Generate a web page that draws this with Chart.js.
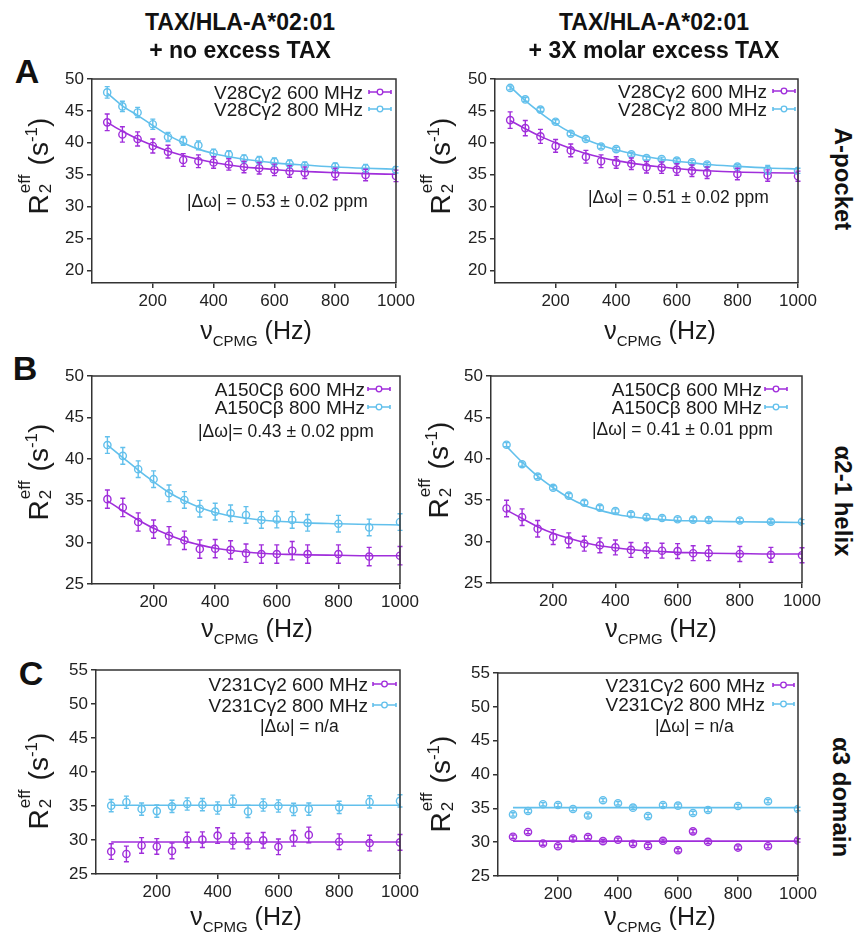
<!DOCTYPE html>
<html><head><meta charset="utf-8">
<script src="https://cdn.jsdelivr.net/npm/chart.js@4.4.1/dist/chart.umd.min.js"></script>
<style>
body{margin:0;background:#fff;width:857px;height:934px;position:relative;overflow:hidden;font-family:"Liberation Sans",Arial,sans-serif;color:#1a1a1a;}
canvas{position:absolute;}
.t{position:absolute;white-space:nowrap;line-height:1;}
.colt{font-weight:bold;font-size:23px;transform:translate(-50%,-50%);color:#111}
.let{font-weight:bold;font-size:34px;transform:translate(-50%,-50%);color:#111}
.rowl{font-weight:bold;font-size:24px;transform:translate(-50%,-50%) rotate(90deg);color:#111}
.yt{font-size:28px;transform:translate(-50%,-50%) rotate(-90deg);}
.yt .ss{display:inline-block;position:relative;width:21px;height:28px;}
.yt .sp{position:absolute;left:1px;top:-4px;font-size:17px;}
.yt .sb{position:absolute;left:1px;top:17px;font-size:17px;}
.yt sup{font-size:17px;vertical-align:11px;}
.xt{font-size:25px;transform:translate(-50%,-50%);}
.xt sub{font-size:15px;vertical-align:-7px;}
.dw{font-size:17.5px;transform:translateY(-50%);}
.lg{font-size:19px;transform:translateY(-50%);text-align:right;}
</style>
</head><body>
<script>
// ---------- DATA ----------
const nu = [50,100,150,200,250,300,350,400,450,500,550,600,650,700,800,900,1000];
const flatX = [50,1000];
const xTicks = [200,400,600,800,1000];
const yTicksA = [20,25,30,35,40,45,50];
const yTicksB = [25,30,35,40,45,50];
const yTicksC = [25,30,35,40,45,50,55];

// A, left: no excess TAX, V28Cγ2
const aL600    = [43.2,41.3,40.6,39.5,38.6,37.3,37.1,36.9,36.6,36.2,36.0,35.75,35.5,35.3,35.1,34.95,34.8];
const aL600Err = [1.3,1.2,1.1,1.1,1.0,1.0,1.0,0.9,0.9,0.9,0.9,0.9,0.9,0.9,0.9,0.9,0.9];
const aL600Fit = [43.2,41.8,40.6,39.6,38.7,38.0,37.4,36.9,36.5,36.2,36.0,35.8,35.6,35.5,35.3,35.15,35.05];
const aL800    = [47.9,45.7,44.75,42.9,40.9,40.3,39.6,38.4,38.15,37.5,37.25,37.0,36.7,36.4,36.25,36.0,35.75];
const aL800Err = [0.9,0.8,0.8,0.8,0.7,0.7,0.7,0.6,0.6,0.6,0.6,0.6,0.6,0.6,0.6,0.6,0.5];
const aL800Fit = [47.8,45.8,44.3,42.7,41.2,40.0,39.0,38.3,37.8,37.4,37.1,36.85,36.65,36.5,36.2,36.0,35.85];

// A, right: 3X excess TAX
const aR600    = [43.55,42.3,41.0,39.5,38.8,37.8,37.1,36.9,36.7,36.15,36.1,35.8,35.6,35.3,35.1,34.85,34.75];
const aR600Err = [1.3,1.2,1.1,1.0,1.0,1.0,1.0,0.9,0.9,0.9,0.9,0.9,0.9,0.9,0.9,0.9,0.8];
const aR600Fit = [43.5,42.2,41.0,40.0,39.1,38.3,37.7,37.2,36.8,36.45,36.2,35.95,35.75,35.6,35.4,35.3,35.25];
const aR800    = [48.6,46.8,45.2,43.3,41.4,40.6,39.4,39.0,38.2,37.6,37.45,37.2,36.95,36.6,36.25,35.75,35.6];
const aR800Err = [0.3,0.3,0.3,0.3,0.3,0.3,0.3,0.3,0.3,0.3,0.3,0.3,0.3,0.3,0.3,0.7,0.4];
const aR800Fit = [48.8,46.6,44.7,43.0,41.6,40.5,39.6,38.9,38.3,37.8,37.4,37.1,36.85,36.6,36.3,36.05,35.9];

// B, left: A150Cβ
const bL600    = [35.2,34.2,32.45,31.6,30.8,30.25,29.2,29.25,29.1,28.7,28.6,28.6,29.0,28.6,28.6,28.3,28.4];
const bL600Err = [1.1,1.1,1.1,1.1,1.1,1.1,1.1,1.1,1.1,1.1,1.1,1.1,1.1,1.1,1.1,1.1,1.1];
const bL600Fit = [35.0,33.8,32.7,31.7,30.9,30.2,29.7,29.3,29.05,28.85,28.7,28.6,28.55,28.5,28.45,28.4,28.4];
const bL800    = [41.7,40.4,38.8,37.6,35.9,35.1,34.05,33.7,33.5,33.3,32.7,32.75,32.7,32.35,32.25,31.8,32.45];
const bL800Err = [1.0,1.0,1.0,1.0,1.0,1.0,1.0,1.0,1.0,1.0,1.0,1.0,1.0,1.0,1.0,1.0,1.0];
const bL800Fit = [41.7,40.2,38.7,37.3,36.0,35.0,34.2,33.6,33.2,32.9,32.7,32.55,32.45,32.35,32.25,32.15,32.1];

// B, right
const bR600    = [34.0,32.95,31.55,30.55,30.15,29.75,29.55,29.3,29.0,28.95,28.9,28.85,28.6,28.6,28.5,28.4,28.35];
const bR600Err = [1.0,1.0,1.0,0.9,0.9,0.9,0.9,0.9,0.9,0.9,0.9,0.9,0.9,0.9,0.9,0.9,0.9];
const bR600Fit = [33.8,32.8,31.8,31.0,30.4,29.9,29.5,29.25,29.05,28.9,28.8,28.7,28.65,28.6,28.55,28.5,28.5];
const bR800    = [41.7,39.35,37.85,36.5,35.55,34.7,34.1,33.7,33.3,32.95,32.85,32.7,32.65,32.6,32.55,32.4,32.4];
const bR800Err = [0.25,0.25,0.25,0.25,0.25,0.25,0.25,0.25,0.25,0.25,0.25,0.25,0.25,0.25,0.25,0.25,0.25];
const bR800Fit = [41.5,39.6,37.9,36.5,35.3,34.4,33.8,33.3,33.0,32.8,32.65,32.55,32.5,32.45,32.4,32.35,32.3];

// C, left: V231Cγ2
const cL600    = [28.3,27.95,29.2,29.05,28.4,30.0,30.05,30.65,29.85,29.85,29.95,29.0,30.25,30.75,29.75,29.55,29.65];
const cL600Err = [1.15,1.15,1.15,1.15,1.15,1.15,1.15,1.15,1.15,1.15,1.15,1.15,1.15,1.15,1.15,1.15,1.15];
const cL600Fit = [29.7,29.7];
const cL800    = [35.05,35.55,34.55,34.25,34.95,35.3,35.2,34.7,35.7,34.2,35.15,35.0,34.5,34.55,34.8,35.6,35.75];
const cL800Err = [0.9,0.9,0.9,0.9,0.9,0.9,0.9,0.9,0.9,0.9,0.9,0.9,0.9,0.9,0.9,0.9,0.9];
const cL800Fit = [35.1,35.1];

// C, right
const cR600    = [30.8,31.5,29.8,29.4,30.55,30.75,30.15,30.35,29.75,29.45,30.2,28.8,31.6,30.05,29.2,29.4,30.25];
const cR600Err = [0.25,0.25,0.25,0.25,0.25,0.25,0.25,0.25,0.25,0.25,0.25,0.25,0.25,0.25,0.25,0.25,0.25];
const cR600Fit = [30.15,30.15];
const cR800    = [34.1,34.6,35.6,35.5,34.9,33.95,36.2,35.75,35.1,33.85,35.5,35.4,34.3,34.75,35.35,36.05,34.9];
const cR800Err = [0.25,0.25,0.25,0.25,0.25,0.25,0.25,0.25,0.25,0.25,0.25,0.25,0.25,0.25,0.25,0.25,0.25];
const cR800Fit = [35.1,35.1];

const labelsA = ['V28Cγ2 600 MHz','V28Cγ2 800 MHz'];
const labelsB = ['A150Cβ 600 MHz','A150Cβ 800 MHz'];
const labelsC = ['V231Cγ2 600 MHz','V231Cγ2 800 MHz'];
const dwTexts = ['|Δω| = 0.53 ± 0.02 ppm','|Δω| = 0.51 ± 0.02 ppm','|Δω|= 0.43 ± 0.02 ppm','|Δω| = 0.41 ± 0.01 ppm','|Δω| = n/a','|Δω| = n/a'];

// ---------- STYLE / LAYOUT ----------
const PURPLE = '#A02EDB';
const BLUE = '#62C0EC';
const AXC = '#333333';
const FONT = '"Liberation Sans", Arial, sans-serif';
const YW = 50, PT = 14, PR = 26, XH = 32;

const panels = [
 {box:[92,79,396,283], yr:[18,50], yt:yTicksA, s6:aL600,e6:aL600Err,f6:aL600Fit,fx:nu, s8:aL800,e8:aL800Err,f8:aL800Fit, lab:labelsA,
  leg:{tr:363,sL:369,sR:391,ys:[92,109]}, dw:{x:187,y:202,t:dwTexts[0]}},
 {box:[495,79,798,283], yr:[18,50], yt:yTicksA, s6:aR600,e6:aR600Err,f6:aR600Fit,fx:nu, s8:aR800,e8:aR800Err,f8:aR800Fit, lab:labelsA,
  leg:{tr:767,sL:773,sR:795,ys:[91,109]}, dw:{x:588,y:198,t:dwTexts[1]}},
 {box:[92,376,400,584], yr:[25,50], yt:yTicksB, s6:bL600,e6:bL600Err,f6:bL600Fit,fx:nu, s8:bL800,e8:bL800Err,f8:bL800Fit, lab:labelsB,
  leg:{tr:365,sL:368,sR:390,ys:[389,407]}, dw:{x:198,y:432,t:dwTexts[2]}},
 {box:[491,376,802,583], yr:[25,50], yt:yTicksB, s6:bR600,e6:bR600Err,f6:bR600Fit,fx:nu, s8:bR800,e8:bR800Err,f8:bR800Fit, lab:labelsB,
  leg:{tr:762,sL:765,sR:787,ys:[389,407]}, dw:{x:592,y:430,t:dwTexts[3]}},
 {box:[96,670,400,874], yr:[25,55], yt:yTicksC, s6:cL600,e6:cL600Err,f6:cL600Fit,fx:flatX, s8:cL800,e8:cL800Err,f8:cL800Fit, lab:labelsC,
  leg:{tr:368,sL:373,sR:396,ys:[684,705]}, dw:{x:260,y:727,t:dwTexts[4]}},
 {box:[498,673,798,876], yr:[25,55], yt:yTicksC, s6:cR600,e6:cR600Err,f6:cR600Fit,fx:flatX, s8:cR800,e8:cR800Err,f8:cR800Fit, lab:labelsC,
  leg:{tr:765,sL:773,sR:794,ys:[685,704]}, dw:{x:655,y:727,t:dwTexts[5]}},
];

const errorBars = {
  id:'errorBars',
  afterDatasetsDraw(chart){
    const ctx = chart.ctx, ys = chart.scales.y;
    chart.data.datasets.forEach((ds,i)=>{
      if(!ds.errors) return;
      const meta = chart.getDatasetMeta(i);
      ctx.save();
      ctx.strokeStyle = ds.borderColor; ctx.lineWidth = 1.4;
      meta.data.forEach((el,j)=>{
        const v = ds.data[j].y, e = ds.errors[j];
        const yt = ys.getPixelForValue(v+e), yb = ys.getPixelForValue(v-e), x = el.x;
        ctx.beginPath();
        ctx.moveTo(x,yt); ctx.lineTo(x,yb);
        ctx.moveTo(x-2.5,yt); ctx.lineTo(x+2.5,yt);
        ctx.moveTo(x-2.5,yb); ctx.lineTo(x+2.5,yb);
        ctx.stroke();
      });
      ctx.restore();
    });
  }
};
const frame = {
  id:'frame',
  afterDraw(chart, args, o){
    const ctx = chart.ctx, a = chart.chartArea;
    ctx.save();
    ctx.strokeStyle = AXC; ctx.lineWidth = 1.5;
    ctx.beginPath();
    ctx.moveTo(a.left, a.top); ctx.lineTo(a.right, a.top); ctx.lineTo(a.right, a.bottom);
    ctx.stroke();
    // legend samples
    const L = o.leg;
    [PURPLE, BLUE].forEach((c,i)=>{
      const y = L.ys[i] - o.offY, x1 = L.sL - o.offX, x2 = L.sR - o.offX;
      ctx.strokeStyle = c; ctx.lineWidth = 1.6;
      ctx.beginPath(); ctx.moveTo(x1,y); ctx.lineTo(x2,y);
      ctx.moveTo(x1,y-2); ctx.lineTo(x1,y+2); ctx.moveTo(x2,y-2); ctx.lineTo(x2,y+2);
      ctx.stroke();
      ctx.beginPath(); ctx.arc((x1+x2)/2, y, 2.8, 0, Math.PI*2);
      ctx.fillStyle = '#fff'; ctx.fill(); ctx.lineWidth = 1.3; ctx.stroke();
    });
    ctx.restore();
  }
};

function addText(cls, x, y, html, extra){
  const d = document.createElement('div');
  d.className = 't ' + cls;
  d.style.left = x + 'px'; d.style.top = y + 'px';
  if (extra) Object.assign(d.style, extra);
  d.innerHTML = html;
  document.body.appendChild(d);
  return d;
}

panels.forEach(p=>{
  const [L,T,R,B] = p.box;
  const cv = document.createElement('canvas');
  const w = YW + (R-L) + PR, h = PT + (B-T) + XH;
  const offX = L - YW, offY = T - PT;
  cv.width = w; cv.height = h;
  cv.style.left = offX+'px'; cv.style.top = offY+'px';
  cv.style.width = w+'px'; cv.style.height = h+'px';
  document.body.appendChild(cv);
  const pts = (arr)=>arr.map((v,i)=>({x:nu[i], y:v}));
  const fit = (arr)=>arr.map((v,i)=>({x:p.fx[i], y:v}));
  const mk = (data, err, fitd, color, label)=>[
    {type:'line', label:label+' fit', data:fit(fitd), borderColor:color, borderWidth:1.6, pointRadius:0,
     tension:0.4, cubicInterpolationMode:'monotone', fill:false, order:2},
    {type:'scatter', label, data:pts(data), errors:err, borderColor:color, backgroundColor:'rgba(0,0,0,0)',
     pointRadius:3.6, pointBorderWidth:1.4, pointBackgroundColor:'rgba(0,0,0,0)', showLine:false, order:1}
  ];
  new Chart(cv, {
    type:'scatter',
    data:{datasets:[...mk(p.s8,p.e8,p.f8,BLUE,p.lab[1]), ...mk(p.s6,p.e6,p.f6,PURPLE,p.lab[0])]},
    options:{
      responsive:false, animation:false, devicePixelRatio:1,
      layout:{padding:{top:PT,right:PR,left:0,bottom:0}},
      plugins:{legend:{display:false}, tooltip:{enabled:false}, frame:{leg:p.leg, offX, offY}},
      scales:{
        x:{type:'linear', min:0, max:1000,
           afterBuildTicks:s=>{s.ticks = xTicks.map(v=>({value:v}));},
           afterFit:s=>{s.height = XH;},
           grid:{drawOnChartArea:false, drawTicks:true, tickLength:5, color:AXC, lineWidth:1.5},
           border:{display:true, color:AXC, width:1.5},
           ticks:{color:'#222', font:{size:17, family:FONT}, padding:3, maxRotation:0, autoSkip:false,
                  callback:v=>String(v)}},
        y:{type:'linear', min:p.yr[0], max:p.yr[1],
           afterBuildTicks:s=>{s.ticks = p.yt.map(v=>({value:v}));},
           afterFit:s=>{s.width = YW;},
           grid:{drawOnChartArea:false, drawTicks:true, tickLength:5, color:AXC, lineWidth:1.5},
           border:{display:true, color:AXC, width:1.5},
           ticks:{color:'#222', font:{size:17, family:FONT}, padding:3, autoSkip:false,
                  callback:v=>String(v)}}
      }
    },
    plugins:[errorBars, frame]
  });
  // legend labels and Δω
  addText('lg', 0, p.leg.ys[0], p.lab[0], {left:'auto', right:(857-p.leg.tr)+'px'});
  addText('lg', 0, p.leg.ys[1], p.lab[1], {left:'auto', right:(857-p.leg.tr)+'px'});
  addText('dw', p.dw.x, p.dw.y, p.dw.t);
});

// titles
addText('colt', 240, 22, 'TAX/HLA-A*02:01');
addText('colt', 240, 50, '+ no excess TAX');
addText('colt', 654, 22, 'TAX/HLA-A*02:01');
addText('colt', 654, 50, '+ 3X molar excess TAX');
addText('let', 27, 71, 'A');
addText('let', 25, 368, 'B');
addText('let', 31, 673, 'C');
addText('rowl', 843, 179, 'A-pocket');
addText('rowl', 843, 501, 'α2-1 helix');
addText('rowl', 841, 797, 'α3 domain');
const yTitle = 'R<span class="ss"><span class="sp">eff</span><span class="sb">2</span></span> (s<sup>-1</sup>)';
[[36,166],[438,166],[36,472],[436,470],[36,781],[438,784]].forEach(([x,y])=>addText('yt',x,y,yTitle));
const xTitle = 'ν<sub>CPMG</sub> (Hz)';
[[256,333],[660,333],[257,631],[661,631],[246,919],[660,919]].forEach(([x,y])=>addText('xt',x,y,xTitle));
</script>
</body></html>
